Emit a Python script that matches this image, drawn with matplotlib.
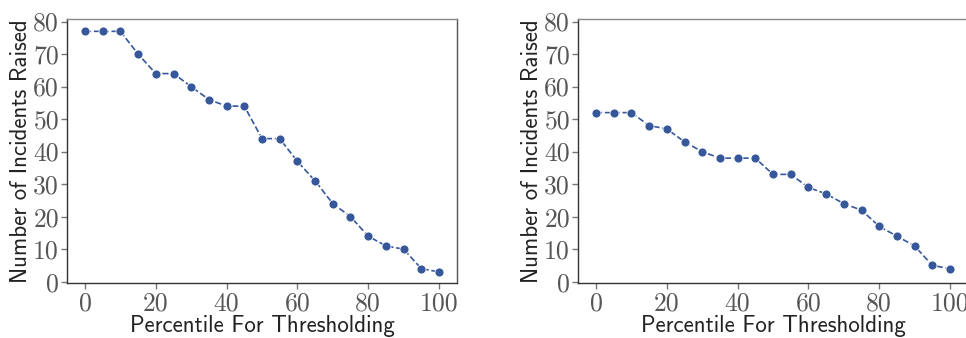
import matplotlib
matplotlib.use("Agg")
import matplotlib.pyplot as plt

percentile = [0, 5, 10, 15, 20, 25, 30, 35, 40, 45, 50,
              55, 60, 65, 70, 75, 80, 85, 90, 95, 100]
incidents_left = [77, 77, 77, 70, 64, 64, 60, 56, 54, 54, 44,
                  44, 37, 31, 24, 20, 14, 11, 10, 4, 3]
incidents_right = [52, 52, 52, 48, 47, 43, 40, 38, 38, 38, 33,
                   33, 29, 27, 24, 22, 17, 14, 11, 5, 4]
xticks = [0, 20, 40, 60, 80, 100]
yticks = [0, 10, 20, 30, 40, 50, 60, 70, 80]

plt.rcParams['axes.formatter.use_mathtext'] = True

W, H = 966, 338
fig = plt.figure(figsize=(W / 100, H / 100), dpi=100)

line_color = '#36589a'


def make_axes(left_px, data):
    ax = fig.add_axes([left_px / W, 1 - 283.3 / H, 389.4 / W, 264 / H])
    ax.plot(percentile, data, '--', color=line_color, lw=1.2,
            marker='o', ms=6.5, mfc=line_color, mec='white', mew=0.6)
    ax.set_xlim(-5, 105)
    ax.set_ylim(-0.5, 80.7)
    ax.set_xticks(xticks)
    ax.set_yticks(yticks)
    ax.set_xticklabels([str(t) for t in xticks], family='cmr10', fontsize=18.5, color='#555555')
    ax.set_yticklabels([str(t) for t in yticks], family='cmr10', fontsize=18.5, color='#555555')
    ax.tick_params(direction='out', length=4, width=1, color='#777777', pad=2)
    ax.set_xlabel('Percentile For Thresholding', family='cmss10', fontsize=16.5,
                  color='#222222', labelpad=0)
    ax.set_ylabel('Number of Incidents Raised', family='cmss10', fontsize=16.5,
                  color='#222222', labelpad=1)
    ax.spines['left'].set_color('#333333')
    ax.spines['bottom'].set_color('#333333')
    ax.spines['top'].set_color('#888888')
    ax.spines['right'].set_color('#555555')
    for s in ax.spines.values():
        s.set_linewidth(1.0)
    return ax


make_axes(67.3, incidents_left)
make_axes(578.3, incidents_right)

fig.savefig('out.png', dpi=100)
